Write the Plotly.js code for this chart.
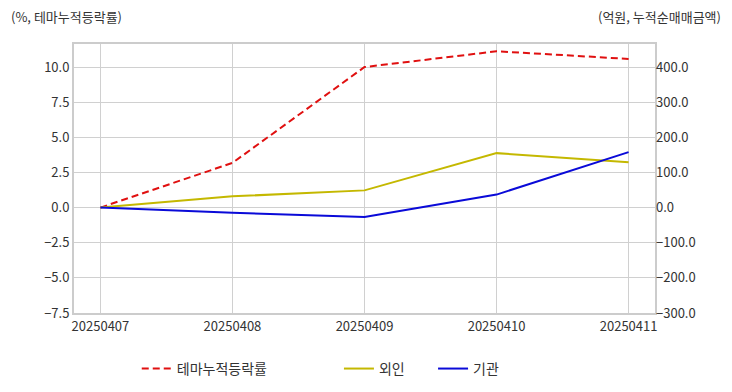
<!DOCTYPE html>
<html><head><meta charset="utf-8">
<script src="https://cdn.plot.ly/plotly-3.0.1.min.js"></script>
<style>html,body{margin:0;padding:0;background:#fff}#c{width:732px;height:392px}</style>
</head><body><div id="c"></div>
<script>
const dates = ["20250407","20250408","20250409","20250410","20250411"];
const themeRate = [0, 3.18, 10.0, 11.12, 10.58];
const foreign = [0, 32, 49, 155, 129];
const institution = [0, -15, -27, 37, 158];
const leftTicks = [-7.5,-5,-2.5,0,2.5,5,7.5,10];
const rightTicks = [-300,-200,-100,0,100,200,300,400];

const font = {family: "Noto Sans CJK KR, Noto Sans, sans-serif", size: 13, color: "#333"};
const traces = [
  {x: dates, y: themeRate, name: "테마누적등락률", type: "scatter", mode: "lines",
   line: {color: "#e01010", width: 2, dash: "7px,4px"}, yaxis: "y", legend: "legend"},
  {x: dates, y: foreign, name: "외인", type: "scatter", mode: "lines",
   line: {color: "#c4b800", width: 2}, yaxis: "y2", legend: "legend2"},
  {x: dates, y: institution, name: "기관", type: "scatter", mode: "lines",
   line: {color: "#0a0ad8", width: 2}, yaxis: "y2", legend: "legend3"}
];
const legBase = {orientation: "h", y: -0.208, yanchor: "middle", xanchor: "left",
  font: {family: font.family, size: 14, color: "#333"}, bgcolor: "rgba(0,0,0,0)"};
const layout = {
  width: 732, height: 392,
  margin: {l: 74, r: 77, t: 44, b: 79, autoexpand: false},
  paper_bgcolor: "#fff", plot_bgcolor: "#fff",
  font: font,
  xaxis: {type: "category", range: [-0.2, 4.2], showgrid: true, gridcolor: "#d0d0d0", gridwidth: 1,
    showline: true, linecolor: "#cccccc", linewidth: 2, mirror: true, ticks: "", zeroline: false,
    tickfont: font},
  yaxis: {range: [-7.5, 11.64], tickvals: leftTicks, tickformat: ".1f", showgrid: true,
    gridcolor: "#d0d0d0", gridwidth: 1, zeroline: false, showline: true, linecolor: "#cccccc",
    linewidth: 2, mirror: true, ticks: "", tickfont: font},
  yaxis2: {range: [-300, 465.6], tickvals: rightTicks, tickformat: ".1f", overlaying: "y", side: "right",
    showgrid: true, gridcolor: "#d0d0d0", gridwidth: 1, zeroline: false, showline: false, ticks: "",
    tickfont: font},
  showlegend: true,
  legend: Object.assign({}, legBase, {x: 0.108}),
  legend2: Object.assign({}, legBase, {x: 0.456}),
  legend3: Object.assign({}, legBase, {x: 0.618}),
  annotations: [
    {text: "(%, 테마누적등락률)", xref: "paper", yref: "paper", x: -0.112, y: 1.104, xanchor: "left",
     yanchor: "middle", showarrow: false, font: font},
    {text: "(억원, 누적순매매금액)", xref: "paper", yref: "paper", x: 1.117, y: 1.104, xanchor: "right",
     yanchor: "middle", showarrow: false, font: font}
  ]
};
Plotly.newPlot("c", traces, layout, {staticPlot: true, displayModeBar: false});
</script></body></html>
